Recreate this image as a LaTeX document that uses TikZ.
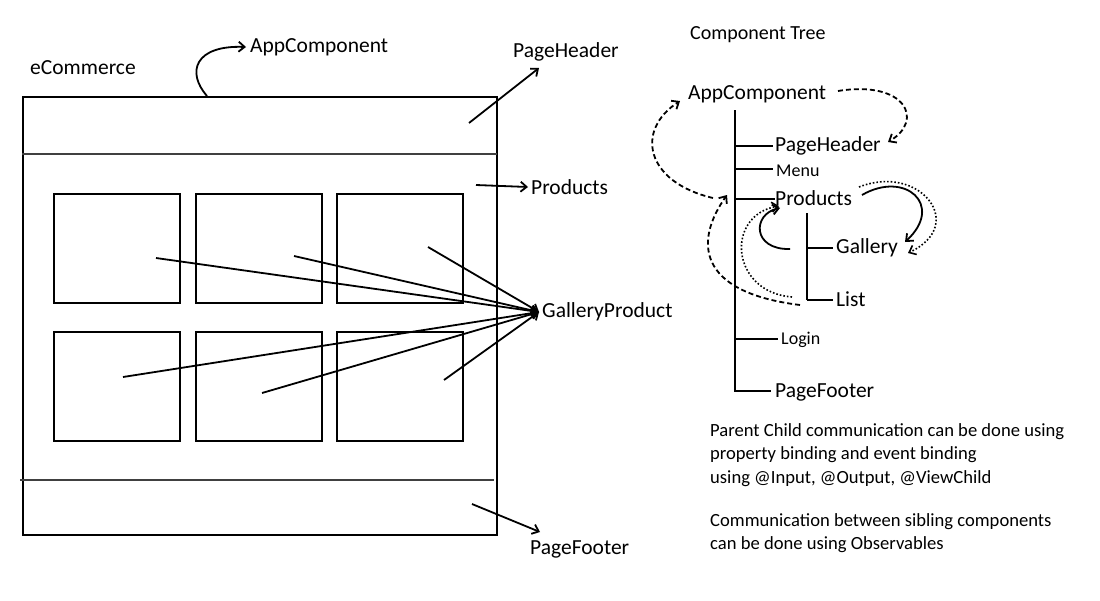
\documentclass[tikz,border=0pt]{standalone}
\usepackage{fontspec}
\setmainfont{Carlito}
\usetikzlibrary{arrows.meta,calc}
\begin{document}
\begin{tikzpicture}[x=1pt,y=-1pt,
  lbl/.style={anchor=west,inner sep=0pt,yshift=-2pt,font=\fontsize{21.5}{24}\selectfont},
  small/.style={anchor=west,inner sep=0pt,yshift=-1.5pt,font=\fontsize{18}{20}\selectfont},
  para/.style={anchor=north west,inner sep=0pt,align=left,font=\fontsize{18.6}{23.5}\selectfont},
  ln/.style={line width=2pt},
  sep/.style={line width=2pt,draw=black!75},
  arr/.style={line width=1.8pt,-{Straight Barb[length=6pt,width=10pt]}},
  darr/.style={arr,dash pattern=on 5pt off 3pt},
  oarr/.style={arr,dash pattern=on 1.6pt off 2pt,line width=1.6pt},
  gbox/.style={draw,line width=2pt,minimum width=126pt,minimum height=109pt,inner sep=0pt},
  tree/.style={line width=2pt}]
\useasboundingbox (0,0) rectangle (1100,600);

% ---------- left: page layout ----------
\node[lbl] (ecom) at (30,66) {eCommerce};
\node[draw,ln,minimum width=474pt,minimum height=438pt,inner sep=0pt,anchor=north west] (page) at (22,96) {};
\coordinate (hl) at (22,154); \coordinate (hr) at (497,154);
\coordinate (fl) at (20,480); \coordinate (fr) at (494,480);
\draw[sep] (hl) -- (hr);
\draw[sep] (fl) -- (fr);

\node[gbox] (b1) at (117,248.5) {};
\node[gbox] (b2) at (259,248.5) {};
\node[gbox] (b3) at (400,248.5) {};
\node[gbox] (b4) at (117,386) {};
\node[gbox] (b5) at (259,386) {};
\node[gbox] (b6) at (400,386) {};

\node[lbl] (app1) at (250,45) {AppComponent};
\node[lbl] (ph1) at (513,50) {PageHeader};
\node[lbl] (pr1) at (531,185) {Products};
\node[lbl] (gp) at (542,310) {GalleryProduct};
\node[lbl] (pf1) at (530,547) {PageFooter};

\coordinate (a0) at (207,96);
\draw[arr] (a0) .. controls (186,72) and (195,45) .. ($(app1.west)+(-4,0)$);
\coordinate (phs) at (469,123);
\draw[arr] (phs) -- (539,68);
\coordinate (prs) at (476,185);
\draw[arr] (prs) -- ($(pr1.west)+(-3,0)$);
\coordinate (pfs) at (472,504);
\draw[arr] (pfs) -- (540,532);

\coordinate (g1) at (156,258);
\coordinate (g2) at (294,256);
\coordinate (g3) at (428,247);
\coordinate (g4) at (123,377);
\coordinate (g5) at (262,393);
\coordinate (g6) at (444,380);
\foreach \g in {g1,g2,g3,g4,g5,g6}
  \draw[arr] (\g) -- ($(gp.west)+(-3,0)$);

% ---------- right: component tree ----------
\node[lbl,font=\fontsize{20}{22}\selectfont] (ct) at (690,33) {Component Tree};
\node[lbl] (app2) at (688,92) {AppComponent};
\node[lbl] (ph2) at (775,144) {PageHeader};
\node[small] (menu) at (776,169) {Menu};
\node[lbl] (pr2) at (775,196) {Products};
\node[lbl] (gal) at (836,246) {Gallery};
\node[lbl] (list) at (836,297) {List};
\node[small] (login) at (781,338) {Login};
\node[lbl] (pf2) at (775,390) {PageFooter};

\coordinate (vt) at (735,110);
\coordinate (vb) at (735,392);
\draw[tree] (vt) -- (vb);
\draw[tree] (735,146) -- (773,146);
\draw[tree] (735,169) -- (773,169);
\draw[tree] (735,199) -- (775,199);
\draw[tree] (735,339) -- (778,339);
\draw[tree] (735,391) -- (771,391);
\coordinate (st) at (807,213);
\coordinate (sb) at (807,300);
\draw[tree] (st) -- (sb);
\draw[tree] (807,248) -- (833,248);
\draw[tree] (807,300) -- (833,300);

% communication arrows
\draw[darr] (838,91) .. controls (905,80) and (925,120) .. (888,142);
\draw[darr] (713,198) .. controls (645,182) and (635,130) .. (680,101);
\draw[darr] (800,305) .. controls (695,292) and (695,240) .. (727,195);
\draw[oarr] (792,297) .. controls (730,292) and (725,215) .. (779,206);
\draw[arr] (790,249) .. controls (752,250) and (752,214) .. (780,208);
\draw[arr] (862,195) .. controls (905,170) and (945,205) .. (905,242);
\draw[oarr] (859,187) .. controls (920,163) and (968,225) .. (908,253);

% notes
\node[para] (n1) at (710,423) {Parent Child communication can be done using\\property binding and event binding\\using @Input, @Output, @ViewChild};
\node[para] (n2) at (710,513) {Communication between sibling components\\can be done using Observables};
\end{tikzpicture}
\end{document}
